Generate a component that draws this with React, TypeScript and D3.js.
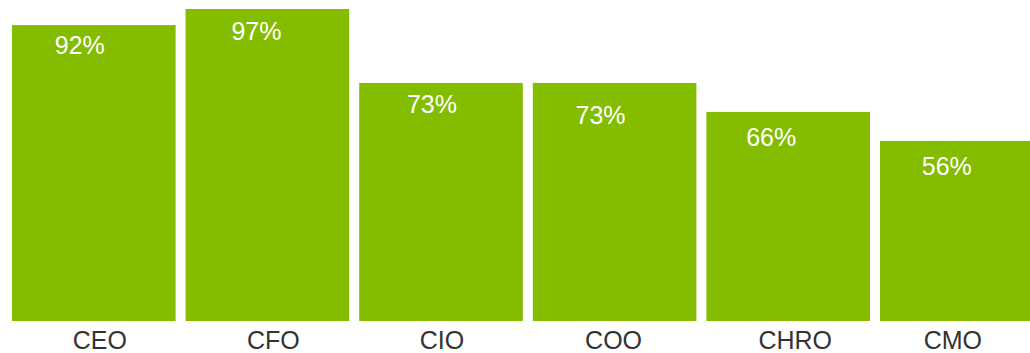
import React from "react";
import * as d3 from "d3";

const categories = ["CEO", "CFO", "CIO", "COO", "CHRO", "CMO"];
// bar heights as drawn in the reference
const values = [92, 97, 74, 74, 65, 56];
const valueLabels = ["92%", "97%", "73%", "73%", "66%", "56%"];

// label nudges (style, px)
const labelDx = [-14, -11, -9, -14, -17, -15];
const labelDy = [29, 31, 30, 41, 34, 34];
const catDx = [6, 6, 1, -1, 7, -9];

const W = 1030;
const H = 353;

export default function App() {
  const x = d3
    .scaleBand<string>()
    .domain(categories)
    .range([7, 7 + 6 * 173.6])
    .paddingInner(0.0576)
    .paddingOuter(0.0288);
  const y = d3.scaleLinear().domain([0, 97]).range([321, 9]);

  return (
    <svg
      width={W}
      height={H}
      style={{ position: "absolute", left: 0, top: 0, display: "block" }}
      fontFamily="'Liberation Sans', Arial, sans-serif"
    >
      <rect width={W} height={H} fill="#fff" />
      {categories.map((c, i) => {
        const bx = x(c)!;
        const bw = x.bandwidth();
        const top = y(values[i]);
        const cx = bx + bw / 2;
        return (
          <g key={c}>
            <rect x={bx} y={top} width={bw} height={y(0) - top} fill="#84bc00" />
            <text
              x={cx + labelDx[i]}
              y={top + labelDy[i]}
              textAnchor="middle"
              fill="#fff"
              fontSize={25}
            >
              {valueLabels[i]}
            </text>
            <text
              x={cx + catDx[i]}
              y={349}
              textAnchor="middle"
              fill="#333"
              fontSize={25}
            >
              {c}
            </text>
          </g>
        );
      })}
    </svg>
  );
}
